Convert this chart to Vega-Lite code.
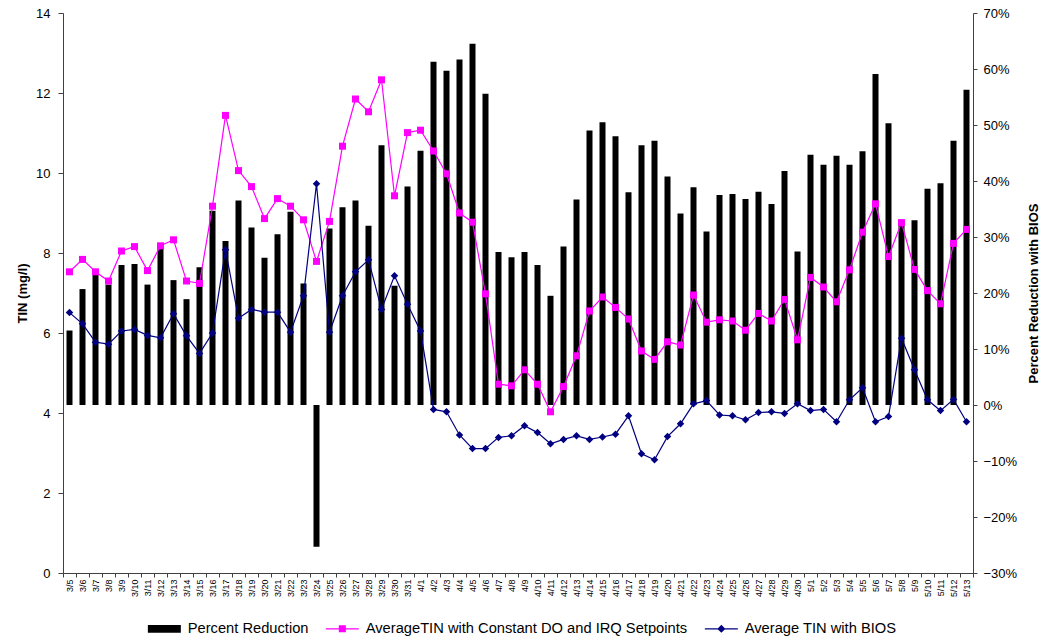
{
  "$schema": "https://vega.github.io/schema/vega-lite/v6.json",
  "width": 910,
  "height": 560,
  "autosize": {"type": "none"},
  "padding": {"left": 63, "top": 13, "right": 71, "bottom": 65},
  "background": "white",
  "config": {
    "font": "Liberation Sans",
    "view": {"stroke": null},
    "axis": {"grid": false, "domainColor": "#404040", "tickColor": "#404040", "labelColor": "#000000", "titleColor": "#000000", "domainWidth": 1, "tickWidth": 1}
  },
  "data": {
    "values": [
      {"date": "3/5", "pct": 0.133, "constTIN": 7.53, "biosTIN": 6.51},
      {"date": "3/6", "pct": 0.207, "constTIN": 7.84, "biosTIN": 6.23},
      {"date": "3/7", "pct": 0.232, "constTIN": 7.53, "biosTIN": 5.77},
      {"date": "3/8", "pct": 0.215, "constTIN": 7.30, "biosTIN": 5.72},
      {"date": "3/9", "pct": 0.250, "constTIN": 8.05, "biosTIN": 6.05},
      {"date": "3/10", "pct": 0.252, "constTIN": 8.16, "biosTIN": 6.09},
      {"date": "3/11", "pct": 0.215, "constTIN": 7.56, "biosTIN": 5.94},
      {"date": "3/12", "pct": 0.280, "constTIN": 8.18, "biosTIN": 5.88},
      {"date": "3/13", "pct": 0.223, "constTIN": 8.33, "biosTIN": 6.48},
      {"date": "3/14", "pct": 0.189, "constTIN": 7.30, "biosTIN": 5.93},
      {"date": "3/15", "pct": 0.246, "constTIN": 7.24, "biosTIN": 5.49},
      {"date": "3/16", "pct": 0.347, "constTIN": 9.17, "biosTIN": 6.00},
      {"date": "3/17", "pct": 0.293, "constTIN": 11.44, "biosTIN": 8.08},
      {"date": "3/18", "pct": 0.365, "constTIN": 10.06, "biosTIN": 6.37},
      {"date": "3/19", "pct": 0.317, "constTIN": 9.66, "biosTIN": 6.59},
      {"date": "3/20", "pct": 0.263, "constTIN": 8.86, "biosTIN": 6.52},
      {"date": "3/21", "pct": 0.305, "constTIN": 9.36, "biosTIN": 6.52},
      {"date": "3/22", "pct": 0.345, "constTIN": 9.17, "biosTIN": 6.02},
      {"date": "3/23", "pct": 0.217, "constTIN": 8.83, "biosTIN": 6.93},
      {"date": "3/24", "pct": -0.253, "constTIN": 7.79, "biosTIN": 9.73},
      {"date": "3/25", "pct": 0.315, "constTIN": 8.79, "biosTIN": 6.02},
      {"date": "3/26", "pct": 0.353, "constTIN": 10.67, "biosTIN": 6.93},
      {"date": "3/27", "pct": 0.365, "constTIN": 11.85, "biosTIN": 7.53},
      {"date": "3/28", "pct": 0.320, "constTIN": 11.53, "biosTIN": 7.83},
      {"date": "3/29", "pct": 0.464, "constTIN": 12.33, "biosTIN": 6.59},
      {"date": "3/30", "pct": 0.213, "constTIN": 9.43, "biosTIN": 7.43},
      {"date": "3/31", "pct": 0.390, "constTIN": 11.01, "biosTIN": 6.72},
      {"date": "4/1", "pct": 0.454, "constTIN": 11.07, "biosTIN": 6.05},
      {"date": "4/2", "pct": 0.613, "constTIN": 10.55, "biosTIN": 4.09},
      {"date": "4/3", "pct": 0.597, "constTIN": 9.98, "biosTIN": 4.03},
      {"date": "4/4", "pct": 0.617, "constTIN": 9.00, "biosTIN": 3.45},
      {"date": "4/5", "pct": 0.645, "constTIN": 8.77, "biosTIN": 3.11},
      {"date": "4/6", "pct": 0.556, "constTIN": 6.98, "biosTIN": 3.11},
      {"date": "4/7", "pct": 0.273, "constTIN": 4.72, "biosTIN": 3.39},
      {"date": "4/8", "pct": 0.264, "constTIN": 4.68, "biosTIN": 3.43},
      {"date": "4/9", "pct": 0.273, "constTIN": 5.08, "biosTIN": 3.68},
      {"date": "4/10", "pct": 0.250, "constTIN": 4.72, "biosTIN": 3.51},
      {"date": "4/11", "pct": 0.195, "constTIN": 4.03, "biosTIN": 3.23},
      {"date": "4/12", "pct": 0.283, "constTIN": 4.66, "biosTIN": 3.34},
      {"date": "4/13", "pct": 0.367, "constTIN": 5.43, "biosTIN": 3.43},
      {"date": "4/14", "pct": 0.490, "constTIN": 6.55, "biosTIN": 3.34},
      {"date": "4/15", "pct": 0.505, "constTIN": 6.90, "biosTIN": 3.40},
      {"date": "4/16", "pct": 0.480, "constTIN": 6.64, "biosTIN": 3.47},
      {"date": "4/17", "pct": 0.380, "constTIN": 6.35, "biosTIN": 3.93},
      {"date": "4/18", "pct": 0.464, "constTIN": 5.55, "biosTIN": 2.98},
      {"date": "4/19", "pct": 0.472, "constTIN": 5.34, "biosTIN": 2.83},
      {"date": "4/20", "pct": 0.408, "constTIN": 5.78, "biosTIN": 3.41},
      {"date": "4/21", "pct": 0.342, "constTIN": 5.70, "biosTIN": 3.73},
      {"date": "4/22", "pct": 0.389, "constTIN": 6.95, "biosTIN": 4.23},
      {"date": "4/23", "pct": 0.310, "constTIN": 6.27, "biosTIN": 4.31},
      {"date": "4/24", "pct": 0.375, "constTIN": 6.33, "biosTIN": 3.95},
      {"date": "4/25", "pct": 0.377, "constTIN": 6.30, "biosTIN": 3.93},
      {"date": "4/26", "pct": 0.368, "constTIN": 6.07, "biosTIN": 3.83},
      {"date": "4/27", "pct": 0.381, "constTIN": 6.49, "biosTIN": 4.01},
      {"date": "4/28", "pct": 0.359, "constTIN": 6.30, "biosTIN": 4.03},
      {"date": "4/29", "pct": 0.418, "constTIN": 6.84, "biosTIN": 3.99},
      {"date": "4/30", "pct": 0.274, "constTIN": 5.83, "biosTIN": 4.23},
      {"date": "5/1", "pct": 0.447, "constTIN": 7.39, "biosTIN": 4.06},
      {"date": "5/2", "pct": 0.429, "constTIN": 7.15, "biosTIN": 4.09},
      {"date": "5/3", "pct": 0.445, "constTIN": 6.78, "biosTIN": 3.78},
      {"date": "5/4", "pct": 0.429, "constTIN": 7.58, "biosTIN": 4.33},
      {"date": "5/5", "pct": 0.453, "constTIN": 8.52, "biosTIN": 4.63},
      {"date": "5/6", "pct": 0.591, "constTIN": 9.23, "biosTIN": 3.78},
      {"date": "5/7", "pct": 0.503, "constTIN": 7.91, "biosTIN": 3.91},
      {"date": "5/8", "pct": 0.330, "constTIN": 8.76, "biosTIN": 5.87},
      {"date": "5/9", "pct": 0.330, "constTIN": 7.59, "biosTIN": 5.08},
      {"date": "5/10", "pct": 0.386, "constTIN": 7.06, "biosTIN": 4.33},
      {"date": "5/11", "pct": 0.396, "constTIN": 6.73, "biosTIN": 4.06},
      {"date": "5/12", "pct": 0.472, "constTIN": 8.24, "biosTIN": 4.34},
      {"date": "5/13", "pct": 0.563, "constTIN": 8.59, "biosTIN": 3.78}
    ]
  },
  "encoding": {
    "x": {
      "field": "date",
      "type": "ordinal",
      "sort": null,
      "scale": {"paddingInner": 0, "paddingOuter": 0},
      "axis": {"title": null, "labelAngle": -90, "labelFontSize": 9, "tickBand": "extent", "tickSize": 4, "labelPadding": 2}
    }
  },
  "layer": [
    {
      "mark": {"type": "bar", "size": 6},
      "encoding": {
        "y": {
          "field": "pct",
          "type": "quantitative",
          "scale": {"domain": [-0.3, 0.7], "nice": false, "zero": false},
          "axis": {
            "orient": "right",
            "format": ".0%",
            "values": [-0.3, -0.2, -0.1, 0, 0.1, 0.2, 0.3, 0.4, 0.5, 0.6, 0.7],
            "title": "Percent Reduction with BIOS",
            "titleAngle": 270,
            "titleBaseline": "top",
            "titleFontSize": 13,
            "titleFontWeight": "bold",
            "titlePadding": 11,
            "labelFontSize": 13,
            "tickSize": 4,
            "labelPadding": 6
          }
        },
        "color": {
          "datum": "Percent Reduction",
          "type": "nominal",
          "scale": {
            "domain": ["Percent Reduction", "AverageTIN with Constant DO and IRQ Setpoints", "Average TIN with BIOS"],
            "range": ["#000000", "#FF00FF", "#000080"]
          },
          "legend": {
            "orient": "none",
            "legendX": 94,
            "legendY": 608,
            "direction": "horizontal",
            "title": null,
            "labelFontSize": 14.7,
            "labelLimit": 500,
            "labelOffset": 16,
            "columnPadding": 16,
            "symbolSize": 121,
            "encode": {
              "symbols": {
                "update": {
                  "shape": {"signal": "datum.value === 'Percent Reduction' ? 'M-3,-0.7H3V0.7H-3Z' : (datum.value === 'Average TIN with BIOS' ? 'M-3,-0.11H-0.62L0,-0.73L0.62,-0.11H3V0.11H0.62L0,0.73L-0.62,0.11H-3Z' : 'M-3,-0.11H-0.64V-0.64H0.64V-0.11H3V0.11H0.64V0.64H-0.64V0.11H-3Z')"},
                  "fill": {"signal": "scale('color', datum.value)"},
                  "stroke": {"value": "transparent"},
                  "strokeWidth": {"value": 0},
                  "opacity": {"value": 1}
                }
              }
            }
          }
        }
      }
    },
    {
      "encoding": {
        "y": {
          "type": "quantitative",
          "scale": {"domain": [0, 14], "nice": false},
          "axis": {
            "orient": "left",
            "values": [0, 2, 4, 6, 8, 10, 12, 14],
            "title": "TIN (mg/l)",
            "titleFontSize": 13,
            "titleFontWeight": "bold",
            "titlePadding": 6,
            "labelFontSize": 13,
            "tickSize": 5,
            "labelPadding": 8
          }
        }
      },
      "layer": [
        {
          "mark": {"type": "line", "strokeWidth": 1.2, "point": {"shape": "square", "size": 49, "filled": true}},
          "encoding": {
            "y": {"field": "constTIN", "type": "quantitative"},
            "color": {"datum": "AverageTIN with Constant DO and IRQ Setpoints", "type": "nominal"}
          }
        },
        {
          "mark": {"type": "line", "strokeWidth": 1.2, "point": {"shape": "diamond", "size": 56, "filled": true}},
          "encoding": {
            "y": {"field": "biosTIN", "type": "quantitative"},
            "color": {"datum": "Average TIN with BIOS", "type": "nominal"}
          }
        }
      ]
    }
  ],
  "resolve": {"scale": {"y": "independent"}}
}
